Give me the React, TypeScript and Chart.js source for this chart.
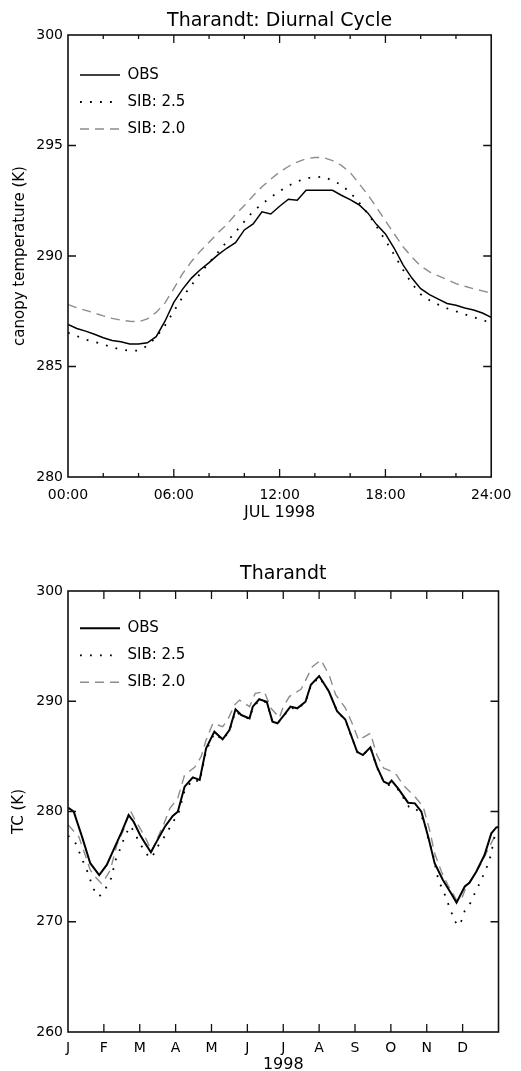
import React, { useEffect, useRef } from 'react';
import { Chart, registerables } from 'chart.js';

Chart.register(...registerables);

const FONT = "'DejaVu Sans', 'Liberation Sans', Arial, sans-serif";

// ---------- Top chart: diurnal cycle, JUL 1998 ----------
const hours = [
  0, 0.5, 1, 1.5, 2, 2.5, 3, 3.5, 4, 4.5, 5, 5.5, 6, 6.5, 7, 7.5, 8, 8.5, 9, 9.5,
  10, 10.5, 11, 11.5, 12, 12.5, 13, 13.5, 14, 14.5, 15, 15.5, 16, 16.5, 17, 17.5,
  18, 18.5, 19, 19.5, 20, 20.5, 21, 21.5, 22, 22.5, 23, 23.5, 24,
];
const obsDiurnal = [
  286.90, 286.72, 286.60, 286.46, 286.30, 286.18, 286.12, 286.02, 286.02, 286.07,
  286.35, 287.05, 287.90, 288.50, 289.00, 289.38, 289.70, 290.05, 290.35, 290.60,
  291.18, 291.45, 292.00, 291.90, 292.25, 292.57, 292.52, 292.98, 292.97, 292.97,
  292.97, 292.75, 292.55, 292.32, 291.95, 291.42, 291.00, 290.35, 289.60, 289.00,
  288.52, 288.25, 288.05, 287.85, 287.77, 287.65, 287.56, 287.42, 287.22,
];
const sib25Diurnal = [
  286.53, 286.38, 286.22, 286.11, 286.00, 285.87, 285.76, 285.72, 285.72, 285.94,
  286.33, 286.86, 287.50, 288.15, 288.67, 289.21, 289.70, 290.16, 290.64, 291.08,
  291.56, 292.02, 292.35, 292.66, 292.93, 293.18, 293.37, 293.52, 293.56, 293.59,
  293.41, 293.22, 292.87, 292.43, 291.92, 291.33, 290.70, 290.05, 289.38, 288.75,
  288.27, 288.00, 287.80, 287.63, 287.50, 287.36, 287.23, 287.10, 286.98,
];
const sib20Diurnal = [
  287.80, 287.66, 287.54, 287.42, 287.29, 287.18, 287.10, 287.05, 287.02, 287.15,
  287.45, 287.88, 288.52, 289.20, 289.75, 290.22, 290.62, 291.05, 291.42, 291.88,
  292.28, 292.73, 293.13, 293.48, 293.80, 294.05, 294.25, 294.40, 294.46, 294.45,
  294.32, 294.10, 293.78, 293.28, 292.77, 292.20, 291.60, 291.00, 290.42, 289.95,
  289.55, 289.28, 289.10, 288.93, 288.75, 288.63, 288.52, 288.42, 288.32,
];
const hourTickLabels = ['00:00', '06:00', '12:00', '18:00', '24:00'];

// ---------- Bottom chart: annual cycle, 1998 (x = months since Jan 1) ----------
const monthLabels = ['J', 'F', 'M', 'A', 'M', 'J', 'J', 'A', 'S', 'O', 'N', 'D'];

const obsMonth = [
  0, 0.16, 0.39, 0.62, 0.87, 1.08, 1.31, 1.50, 1.69, 1.83, 2.01, 2.15, 2.31, 2.47, 2.70,
  2.92, 3.06, 3.25, 3.48, 3.67, 3.85, 4.08, 4.31, 4.50, 4.67, 4.83, 5.06, 5.15, 5.33, 5.54,
  5.70, 5.84, 6.02, 6.20, 6.39, 6.62, 6.77, 7.00, 7.27, 7.50, 7.73, 8.06, 8.22, 8.43, 8.61,
  8.80, 8.94, 9.02, 9.20, 9.48, 9.67, 9.85, 10.04, 10.22, 10.45, 10.69, 10.83, 11.06, 11.19,
  11.38, 11.61, 11.80, 11.94, 12.0,
];
const obsTemp = [
  280.35, 279.98, 277.72, 275.31, 274.24, 275.15, 276.81, 278.17, 279.68, 279.07, 277.87,
  277.12, 276.30, 277.27, 278.62, 279.6, 279.98, 282.25, 283.10, 282.86, 285.73, 287.24,
  286.55, 287.39, 289.27, 288.75, 288.45, 289.51, 290.18, 289.96, 288.15, 288.00, 288.75,
  289.51, 289.36, 289.96, 291.5, 292.29, 290.9, 289.1, 288.35, 285.42, 285.12, 285.82,
  284.07, 282.71, 282.50, 282.80, 282.10, 280.80, 280.74, 279.98, 277.72, 275.31, 273.79,
  272.52, 271.73, 273.2, 273.54, 274.54, 276.05, 278.02, 278.56, 278.6,
];

const sib25Month = [
  0, 0.19, 0.31, 0.41, 0.53, 0.71, 0.87, 1.04, 1.20, 1.34, 1.45, 1.58, 1.73, 1.85, 1.99,
  2.13, 2.27, 2.41, 2.54, 2.66, 2.80, 2.92, 3.06, 3.25, 3.48, 3.67, 3.85, 4.08, 4.31, 4.50,
  4.67, 4.83, 5.06, 5.15, 5.33, 5.54, 5.70, 5.84, 6.02, 6.20, 6.39, 6.62, 6.77, 7.00, 7.27,
  7.50, 7.73, 8.06, 8.22, 8.43, 8.61, 8.80, 8.94, 9.20, 9.50, 9.67, 9.94, 10.04, 10.17,
  10.27, 10.34, 10.47, 10.56, 10.67, 10.75, 10.89, 10.98, 11.06, 11.22, 11.33, 11.45,
  11.58, 11.69, 11.78, 11.89, 12.0,
];
const sib25Temp = [
  277.8, 277.27, 276.36, 275.55, 274.64, 272.97, 272.28, 272.97, 273.94, 275.75, 276.57,
  277.72, 278.68, 278.17, 277.12, 276.51, 275.75, 276.21, 277.05, 277.57, 278.32, 279.07,
  279.6, 281.9, 282.9, 282.7, 285.5, 287.1, 286.5, 287.3, 289.1, 288.7, 288.4, 289.4,
  290.1, 289.9, 288.1, 288.0, 288.7, 289.4, 289.3, 289.9, 291.4, 292.2, 290.9, 289.1,
  288.3, 285.4, 285.1, 285.8, 284.0, 282.7, 282.4, 282.0, 280.44, 280.4, 279.07, 277.5,
  276.21, 274.54, 273.63, 272.79, 271.91, 271.07, 270.16, 269.64, 270.16, 271.0, 271.73,
  272.52, 273.33, 274.24, 275.09, 275.96, 277.72, 278.0,
];

const sib20Month = [
  0, 0.30, 0.48, 0.62, 0.76, 0.93, 1.04, 1.18, 1.36, 1.55, 1.73, 1.87, 2.01, 2.19, 2.33,
  2.47, 2.66, 2.84, 3.06, 3.25, 3.53, 3.71, 3.85, 4.04, 4.31, 4.45, 4.64, 4.78, 5.06, 5.22,
  5.47, 5.66, 5.89, 6.00, 6.17, 6.50, 6.81, 7.05, 7.28, 7.46, 7.73, 7.92, 8.10, 8.43, 8.61,
  8.80, 8.94, 9.16, 9.34, 9.67, 9.90, 10.08, 10.22, 10.41, 10.59, 10.83, 10.96, 11.10,
  11.33, 11.52, 11.70, 11.89, 12.0,
];
const sib20Temp = [
  278.8, 277.72, 276.05, 274.69, 274.08, 273.48, 273.94, 274.69, 276.96, 278.32, 280.14,
  279.23, 278.47, 277.42, 276.36, 277.42, 278.78, 280.29, 281.2, 283.31, 284.01, 284.97,
  286.49, 288.0, 287.69, 288.30, 289.66, 290.11, 289.51, 290.72, 290.87, 289.36, 288.5,
  289.5, 290.42, 291.1, 293.13, 293.74, 292.38, 290.6, 289.4, 288.0, 286.49, 287.09,
  285.12, 283.92, 283.76, 283.31, 282.40, 281.34, 280.44, 278.32, 276.21, 274.54, 273.33,
  271.97, 271.97, 273.18, 274.24, 275.31, 276.51, 277.72, 277.7,
];

const seriesNames = ['OBS', 'SIB: 2.5', 'SIB: 2.0'];

function toPoints(xs: number[], ys: number[]) {
  return xs.map((x, i) => ({ x, y: ys[i] }));
}

// Frame plus inward-pointing ticks on all four sides, placed with the chart's own scales.
function makeFrameTicks(majorEvery: number, majorLen: number, minorLen: number, yLen: number) {
  return {
    id: 'frameTicks',
    afterDraw(chart: any) {
      const { ctx, chartArea: a } = chart;
      const xs = chart.scales.x;
      const ys = chart.scales.y;
      ctx.save();
      ctx.strokeStyle = '#111';
      ctx.lineWidth = 1.3;
      ctx.beginPath();
      xs.ticks.forEach((t: any) => {
        const px = xs.getPixelForValue(t.value);
        if (px <= a.left + 1 || px >= a.right - 1) return;
        const isMajor = Math.abs(t.value / majorEvery - Math.round(t.value / majorEvery)) < 1e-6;
        const len = isMajor ? majorLen : minorLen;
        ctx.moveTo(px, a.bottom);
        ctx.lineTo(px, a.bottom - len);
        ctx.moveTo(px, a.top);
        ctx.lineTo(px, a.top + len);
      });
      ys.ticks.forEach((t: any) => {
        const py = ys.getPixelForValue(t.value);
        if (py <= a.top + 1 || py >= a.bottom - 1) return;
        ctx.moveTo(a.left, py);
        ctx.lineTo(a.left + yLen, py);
        ctx.moveTo(a.right, py);
        ctx.lineTo(a.right - yLen, py);
      });
      ctx.stroke();
      ctx.lineWidth = 1.6;
      ctx.strokeRect(a.left, a.top, a.right - a.left, a.bottom - a.top);
      ctx.restore();
    },
  };
}

function datasets(pts: { x: number; y: number }[][], obsWidth: number) {
  return [
    {
      label: seriesNames[0],
      data: pts[0],
      borderColor: '#000',
      backgroundColor: '#000',
      borderWidth: obsWidth,
      pointRadius: 0,
      tension: 0,
    },
    {
      label: seriesNames[1],
      data: pts[1],
      borderColor: '#000',
      backgroundColor: '#000',
      borderWidth: 1.8,
      borderDash: [1.8, 8.2],
      pointRadius: 0,
      tension: 0,
    },
    {
      label: seriesNames[2],
      data: pts[2],
      borderColor: '#8c8c8c',
      backgroundColor: '#8c8c8c',
      borderWidth: 1.4,
      borderDash: [9, 6],
      pointRadius: 0,
      tension: 0,
    },
  ];
}

// Legend sits inside the plot; Chart.js puts a vertical chartArea legend's top at the canvas top,
// so the (blank) legend title supplies the offset down to the first row.
function legendOptions(titleGap: number) {
  return {
    display: true,
    position: 'chartArea',
    align: 'start',
    title: { display: true, text: ' ', font: { family: FONT, size: 10 }, padding: { top: 0, bottom: titleGap } },
    labels: {
      usePointStyle: true,
      pointStyle: 'line',
      pointStyleWidth: 40,
      boxWidth: 40,
      padding: 12,
      color: '#000',
      font: { family: FONT, size: 15 },
      generateLabels: (chart: any) => {
        const base = (Chart.defaults.plugins.legend.labels as any).generateLabels(chart);
        return base.map((it: any) => {
          const ds = chart.data.datasets[it.datasetIndex];
          return {
            ...it,
            lineDash: ds.borderDash || [],
            lineWidth: ds.borderWidth,
            strokeStyle: ds.borderColor,
            fillStyle: ds.borderColor,
            lineCap: 'butt',
          };
        });
      },
    },
  };
}

export default function App() {
  const topRef = useRef<HTMLCanvasElement>(null);
  const botRef = useRef<HTMLCanvasElement>(null);

  useEffect(() => {
    Chart.defaults.font.family = FONT;
    Chart.defaults.color = '#000';

    const topChart = new Chart(topRef.current as HTMLCanvasElement, {
      type: 'line',
      data: {
        datasets: datasets(
          [toPoints(hours, obsDiurnal), toPoints(hours, sib25Diurnal), toPoints(hours, sib20Diurnal)],
          1.5,
        ) as any,
      },
      options: {
        responsive: false,
        animation: false,
        devicePixelRatio: 1,
        layout: { padding: { left: 0, right: 21, top: 0, bottom: 0 } },
        plugins: {
          title: {
            display: true,
            text: 'Tharandt: Diurnal Cycle',
            fullSize: false,
            color: '#000',
            font: { family: FONT, size: 19, weight: 'normal' },
            padding: { top: 9.6, bottom: 2.6 },
          },
          legend: legendOptions(43.5) as any,
          tooltip: { enabled: false },
        },
        scales: {
          x: {
            type: 'linear',
            min: 0,
            max: 24,
            grid: { display: false, drawTicks: false },
            border: { display: false },
            ticks: {
              stepSize: 2,
              autoSkip: false,
              maxRotation: 0,
              padding: 9.6,
              color: '#000',
              font: { family: FONT, size: 14 },
              callback: (v: any) => (Number(v) % 6 === 0 ? hourTickLabels[Number(v) / 6] : ''),
            },
            title: {
              display: true,
              text: 'JUL 1998',
              color: '#000',
              font: { family: FONT, size: 16 },
              padding: { top: 0, bottom: 12.4 },
            },
            afterFit: (s: any) => {
              s.height = 58;
            },
          },
          y: {
            type: 'linear',
            min: 280,
            max: 300,
            grid: { display: false, drawTicks: false },
            border: { display: false },
            ticks: { stepSize: 5, padding: 5, color: '#000', font: { family: FONT, size: 14 } },
            title: {
              display: true,
              text: 'canopy temperature (K)',
              color: '#000',
              font: { family: FONT, size: 15 },
              padding: { top: 11, bottom: 0 },
            },
            afterFit: (s: any) => {
              s.width = 68;
            },
          },
        },
      } as any,
      plugins: [makeFrameTicks(6, 8, 4, 8)],
    });

    const botChart = new Chart(botRef.current as HTMLCanvasElement, {
      type: 'line',
      data: {
        datasets: datasets(
          [toPoints(obsMonth, obsTemp), toPoints(sib25Month, sib25Temp), toPoints(sib20Month, sib20Temp)],
          2,
        ) as any,
      },
      options: {
        responsive: false,
        animation: false,
        devicePixelRatio: 1,
        layout: { padding: { left: 0, right: 22.5, top: 0, bottom: 0 } },
        plugins: {
          title: {
            display: true,
            text: 'Tharandt',
            fullSize: false,
            color: '#000',
            font: { family: FONT, size: 19, weight: 'normal' },
            padding: { top: 27.6, bottom: 5.6 },
          },
          legend: legendOptions(61.8) as any,
          tooltip: { enabled: false },
        },
        scales: {
          x: {
            type: 'linear',
            min: 0,
            max: 12,
            grid: { display: false, drawTicks: false },
            border: { display: false },
            ticks: {
              stepSize: 1,
              autoSkip: false,
              maxRotation: 0,
              padding: 8.1,
              color: '#000',
              font: { family: FONT, size: 14 },
              callback: (v: any) => monthLabels[Number(v)] ?? '',
            },
            title: {
              display: true,
              text: '1998',
              color: '#000',
              font: { family: FONT, size: 16 },
              padding: { top: 0, bottom: 5.4 },
            },
            afterFit: (s: any) => {
              s.height = 48;
            },
          },
          y: {
            type: 'linear',
            min: 260,
            max: 300,
            grid: { display: false, drawTicks: false },
            border: { display: false },
            ticks: { stepSize: 10, padding: 5, color: '#000', font: { family: FONT, size: 14 } },
            title: {
              display: true,
              text: 'TC (K)',
              color: '#000',
              font: { family: FONT, size: 15 },
              padding: { top: 10, bottom: 0 },
            },
            afterFit: (s: any) => {
              s.width = 68;
            },
          },
        },
      } as any,
      plugins: [makeFrameTicks(1, 8, 8, 8)],
    });

    return () => {
      topChart.destroy();
      botChart.destroy();
    };
  }, []);

  return (
    <div
      style={{
        position: 'absolute',
        left: 0,
        top: 0,
        width: 521,
        height: 1071,
        overflow: 'hidden',
        background: '#fff',
      }}
    >
      <canvas
        ref={topRef}
        width={521}
        height={535}
        style={{ position: 'absolute', left: 0, top: 0, width: 521, height: 535, display: 'block' }}
      />
      <canvas
        ref={botRef}
        width={521}
        height={545}
        style={{ position: 'absolute', left: 0, top: 535, width: 521, height: 545, display: 'block' }}
      />
    </div>
  );
}
